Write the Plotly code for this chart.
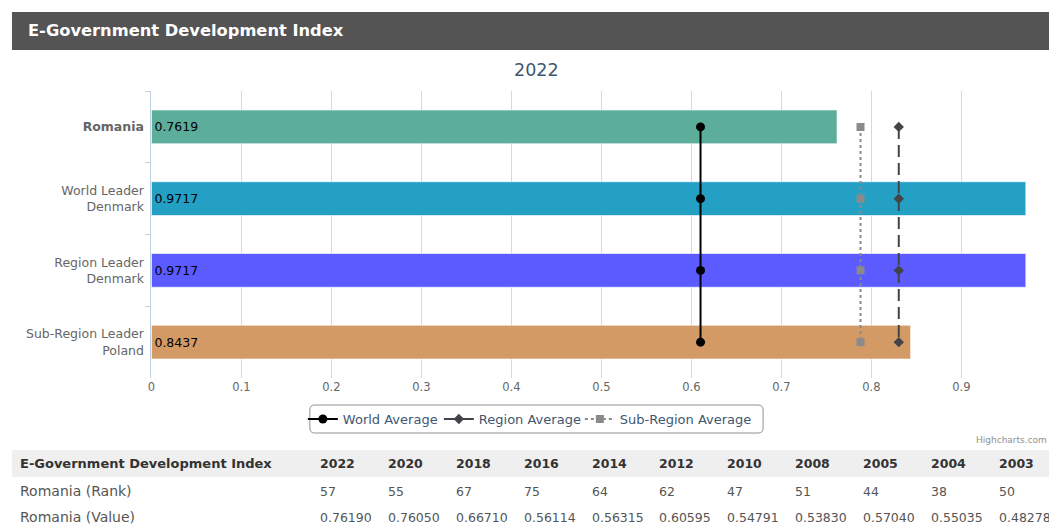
import plotly.graph_objects as go

W, H = 1049, 525

# ---- data ----
categories = ["<b>Romania</b>", "World Leader<br>Denmark", "Region Leader<br>Denmark", "Sub-Region Leader<br>Poland"]
values = [0.7619, 0.9717, 0.9717, 0.8437]
bar_colors = ["#5DAD9B", "#24A0C5", "#5B5BFF", "#D39A66"]
world_avg = [0.6102, 0.6102, 0.6102, 0.6102]
region_avg = [0.8305, 0.8305, 0.8305, 0.8305]
subregion_avg = [0.7880, 0.7880, 0.7880, 0.7880]
x_ticks = [0, 0.1, 0.2, 0.3, 0.4, 0.5, 0.6, 0.7, 0.8, 0.9]

table_title = "E-Government Development Index"
table_years = ["2022", "2020", "2018", "2016", "2014", "2012", "2010", "2008", "2005", "2004", "2003"]
rank_label = "Romania (Rank)"
ranks = ["57", "55", "67", "75", "64", "62", "47", "51", "44", "38", "50"]
value_label = "Romania (Value)"
year_values = ["0.76190", "0.76050", "0.66710", "0.56114", "0.56315", "0.60595",
               "0.54791", "0.53830", "0.57040", "0.55035", "0.48278"]

FONT = "DejaVu Sans"


def px(x):
    return x / W


def py(y):
    return 1 - y / H


fig = go.Figure()

fig.add_trace(go.Bar(
    x=values, y=categories, orientation="h",
    marker=dict(color=bar_colors, line=dict(color="rgba(255,255,255,0.6)", width=1)),
    width=0.47,
    text=[f"{v:.4f}" for v in values], textposition="inside", insidetextanchor="start",
    textfont=dict(family=FONT, size=12.5, color="#000000"),
    showlegend=False, hoverinfo="x+y",
))

fig.add_trace(go.Scatter(
    x=world_avg, y=categories, mode="lines+markers", name="World Average",
    line=dict(color="#000000", width=2), legendwidth=91,
    marker=dict(symbol="circle", size=9, color="#000000"),
))
fig.add_trace(go.Scatter(
    x=region_avg, y=categories, mode="lines+markers", name="Region Average",
    line=dict(color="#434348", width=2, dash="12px,6px"), legendwidth=96,
    marker=dict(symbol="diamond", size=8, color="#434348"),
))
fig.add_trace(go.Scatter(
    x=subregion_avg, y=categories, mode="lines+markers", name="Sub-Region Average",
    line=dict(color="#8a8a8a", width=2, dash="dot"), legendwidth=135,
    marker=dict(symbol="square", size=8, color="#8a8a8a"),
))

shapes = [
    # header bar
    dict(type="rect", xref="paper", yref="paper", x0=px(8), x1=px(1049), y0=py(50), y1=py(12),
         fillcolor="#545454", line=dict(width=0), layer="below"),
    # table header background
    dict(type="rect", xref="paper", yref="paper", x0=px(8), x1=px(1049), y0=py(477), y1=py(450),
         fillcolor="#EFEFEF", line=dict(width=0), layer="below"),
]

# rounded legend box
lx0, lx1, ly0, ly1, r = 307, 762, 405, 433, 5
path = (f"M {px(lx0 + r)},{py(ly0)} L {px(lx1 - r)},{py(ly0)} Q {px(lx1)},{py(ly0)} {px(lx1)},{py(ly0 + r)} "
        f"L {px(lx1)},{py(ly1 - r)} Q {px(lx1)},{py(ly1)} {px(lx1 - r)},{py(ly1)} "
        f"L {px(lx0 + r)},{py(ly1)} Q {px(lx0)},{py(ly1)} {px(lx0)},{py(ly1 - r)} "
        f"L {px(lx0)},{py(ly0 + r)} Q {px(lx0)},{py(ly0)} {px(lx0 + r)},{py(ly0)} Z")
shapes.append(dict(type="path", xref="paper", yref="paper", path=path,
                   line=dict(color="#909090", width=1), fillcolor="rgba(0,0,0,0)"))

annotations = [
    dict(text="<b>E-Government Development Index</b>", x=px(22), y=py(31), xref="paper", yref="paper",
         xanchor="left", yanchor="middle", showarrow=False,
         font=dict(family=FONT, size=16.3, color="#FFFFFF")),
    dict(text="2022", x=px(535), y=py(70), xref="paper", yref="paper",
         xanchor="center", yanchor="middle", showarrow=False,
         font=dict(family=FONT, size=17.5, color="#3E576F")),
    dict(text="Highcharts.com", x=px(1049), y=py(440), xref="paper", yref="paper",
         xanchor="right", yanchor="middle", showarrow=False,
         font=dict(family=FONT, size=9, color="#909090")),
    dict(text=f"<b>{table_title}</b>", x=px(14), y=py(463), xref="paper", yref="paper",
         xanchor="left", yanchor="middle", showarrow=False,
         font=dict(family=FONT, size=13, color="#333333")),
    dict(text=rank_label, x=px(14), y=py(491), xref="paper", yref="paper",
         xanchor="left", yanchor="middle", showarrow=False,
         font=dict(family=FONT, size=14, color="#555555")),
    dict(text=value_label, x=px(14), y=py(517), xref="paper", yref="paper",
         xanchor="left", yanchor="middle", showarrow=False,
         font=dict(family=FONT, size=14, color="#555555")),
]
col_x0, col_dx = 315, 68.2
for i, (yr, rk, vl) in enumerate(zip(table_years, ranks, year_values)):
    cx = col_x0 + i * col_dx
    annotations.append(dict(text=f"<b>{yr}</b>", x=px(cx), y=py(463), xref="paper", yref="paper",
                            xanchor="left", yanchor="middle", showarrow=False,
                            font=dict(family=FONT, size=12.5, color="#333333")))
    annotations.append(dict(text=rk, x=px(cx), y=py(491), xref="paper", yref="paper",
                            xanchor="left", yanchor="middle", showarrow=False,
                            font=dict(family=FONT, size=12.5, color="#555555")))
    annotations.append(dict(text=vl, x=px(cx), y=py(517), xref="paper", yref="paper",
                            xanchor="left", yanchor="middle", showarrow=False,
                            font=dict(family=FONT, size=12.5, color="#555555")))

fig.update_layout(
    width=W, height=H,
    margin=dict(l=0, r=0, t=0, b=0),
    paper_bgcolor="#FFFFFF", plot_bgcolor="#FFFFFF",
    font=dict(family=FONT),
    barmode="overlay",
    xaxis=dict(domain=[px(148), 1.0], range=[0, (1049 - 148) / 903.3],
               tickvals=x_ticks, ticktext=[f"{t:g}" for t in x_ticks],
               showgrid=True, gridcolor="#D8D8D8", gridwidth=1,
               zeroline=False, showline=False, ticks="",
               tickfont=dict(family=FONT, size=11.5, color="#666666")),
    yaxis=dict(domain=[py(378), py(91)], autorange="reversed", type="category",
               showgrid=False, showline=True, linecolor="#C0D0E0", linewidth=1,
               ticks="outside", tickson="boundaries", ticklen=5, tickcolor="#C0D0E0",
               ticklabelstandoff=4,
               tickfont=dict(family=FONT, size=12.5, color="#666666")),
    legend=dict(orientation="h", x=px(300), y=py(419), xanchor="left", yanchor="middle",
                bgcolor="rgba(0,0,0,0)", borderwidth=0, itemwidth=30,
                font=dict(family=FONT, size=13, color="#3E576F")),
    shapes=shapes,
    annotations=annotations,
)

fig.write_html("out.html", config={"displayModeBar": False},
               post_script="document.body.style.margin='0';document.body.style.overflow='hidden';")
